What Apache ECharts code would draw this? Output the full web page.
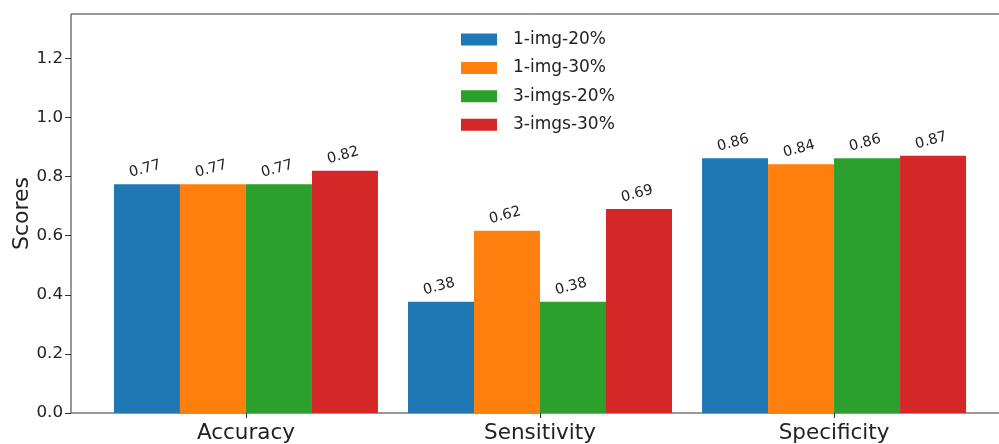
<!DOCTYPE html>
<html><head><meta charset="utf-8">
<script src="https://cdn.jsdelivr.net/npm/echarts@6/dist/echarts.min.js"></script>
<style>html,body{margin:0;padding:0;background:#fff}#c{width:999px;height:444px}</style>
</head><body><div id="c"></div>
<script>
const categories = ['Accuracy', 'Sensitivity', 'Specificity'];
const seriesNames = ['1-img-20%', '1-img-30%', '3-imgs-20%', '3-imgs-30%'];
const img1_20 = [0.774, 0.376, 0.862];
const img1_30 = [0.774, 0.617, 0.842];
const imgs3_20 = [0.774, 0.376, 0.862];
const imgs3_30 = [0.82, 0.69, 0.87];
const yTicks = [0, 0.2, 0.4, 0.6, 0.8, 1.0, 1.2];
const xTicks = [0, 1, 2];
const colors = ['#1f77b4', '#ff7f0e', '#2ca02c', '#d62728'];

const allValues = [img1_20, img1_30, imgs3_20, imgs3_30];
const font = 'DejaVu Sans';
const chart = echarts.init(document.getElementById('c'), null, {renderer: 'canvas'});
chart.setOption({
  animation: false,
  color: colors,
  textStyle: {fontFamily: font},
  grid: {left: 71, top: 14, width: 938, height: 399, outerBoundsMode: 'none', containLabel: false,
    show: true, borderColor: '#333', borderWidth: 1, backgroundColor: 'transparent'},
  legend: {
    orient: 'vertical', left: 456, top: 26, itemWidth: 36, itemHeight: 12, itemGap: 11.4,
    icon: 'rect', data: seriesNames,
    textStyle: {fontFamily: font, fontSize: 17, color: '#222', lineHeight: 17, padding: [0, 0, 0, 11]}
  },
  xAxis: {
    type: 'value', min: -0.595, max: 2.595,
    axisLine: {show: false, onZero: false},
    splitLine: {show: false},
    axisTick: {customValues: xTicks, length: 5, lineStyle: {color: '#333'}},
    axisLabel: {customValues: xTicks, formatter: v => categories[Math.round(v)], fontFamily: font, fontSize: 21.5, color: '#222', margin: 9}
  },
  yAxis: {
    type: 'value', min: 0, max: 1.35, interval: 0.2,
    name: 'Scores', nameLocation: 'middle', nameGap: 38, nameMoveOverlap: false,
    nameTextStyle: {fontFamily: font, fontSize: 22, color: '#222'},
    axisLine: {show: false, onZero: false},
    splitLine: {show: false},
    axisTick: {customValues: yTicks, length: 6, lineStyle: {color: '#333'}},
    axisLabel: {customValues: yTicks, formatter: v => v.toFixed(1), fontFamily: font, fontSize: 16.7, color: '#222', margin: 8}
  },
  series: seriesNames.map((name, i) => ({
    name: name, type: 'bar', barWidth: 66, barGap: '0%',
    data: allValues[i].map((v, j) => [xTicks[j], v]),
    label: {show: true, position: 'top', distance: 8, rotate: 15, fontFamily: font, fontSize: 14.5, color: '#222',
      formatter: p => p.value[1].toFixed(2)}
  }))
});
</script></body></html>
